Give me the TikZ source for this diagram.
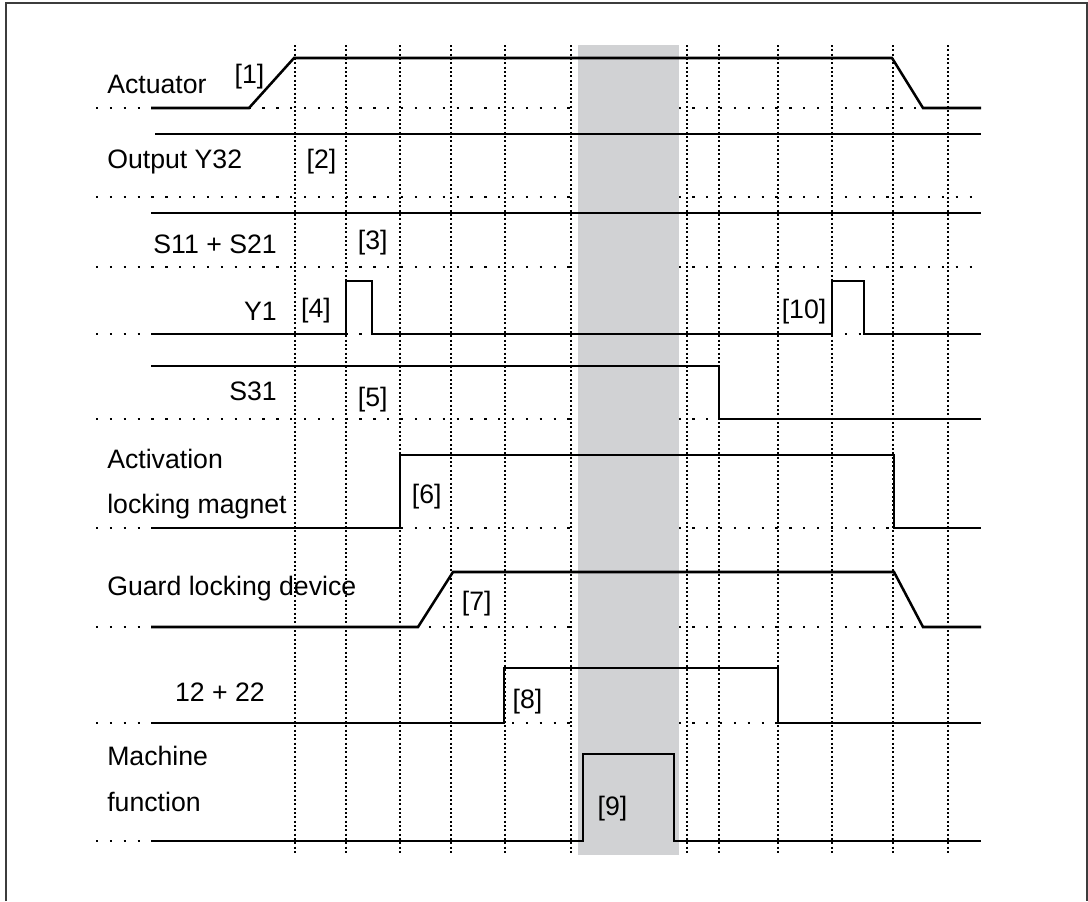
\documentclass[tikz,border=0pt]{standalone}
\usepackage{fontspec}
\setmainfont{Liberation Sans}
\definecolor{band}{RGB}{209,210,212}
\definecolor{frame}{RGB}{60,60,60}
\begin{document}
\begin{tikzpicture}[x=0.75pt,y=-0.75pt,
  sig/.style={line width=1.9pt,line join=miter,black},
  hdot/.style={line width=1.9pt,dash pattern=on 1.7pt off 8.7pt,black},
  vdot/.style={line width=1.9pt,dash pattern=on 1.6pt off 1.65pt,black},
  lbl/.style={inner sep=0pt,anchor=base west,font=\fontsize{20}{24}\selectfont},
  rlbl/.style={inner sep=0pt,anchor=base east,font=\fontsize{20}{24}\selectfont},
  tag/.style={inner sep=0pt,anchor=base,font=\fontsize{20}{24}\selectfont}]
\useasboundingbox (0,0) rectangle (1088,901);
\draw[line width=1.2pt,frame] (6,901) -- (6,3) -- (1087,3) -- (1087,901);
% vertical dotted grid
\foreach \x in {295,346,400,451,505,571,687,719,778,832,893,948}
  \draw[vdot] (\x,45) -- (\x,853);
% horizontal dotted baselines
\foreach \y in {108,197,267,334,419,528,627,723,841}
  \draw[hdot] (96,\y) -- (982,\y);
% grey band
\fill[band] (578,45) rectangle (679,855);
% signals
\draw[sig] (151,108) -- (249,108) -- (294,58) -- (892,58) -- (923,108) -- (981,108);
\draw[sig] (155,134) -- (981,134);
\draw[sig] (151,213) -- (981,213);
\draw[sig] (151,334) -- (346,334) -- (346,281) -- (372,281) -- (372,334) -- (832,334) -- (832,281) -- (864,281) -- (864,334) -- (981,334);
\draw[sig] (151,366) -- (719,366) -- (719,419) -- (981,419);
\draw[sig] (151,528) -- (400,528) -- (400,455) -- (894,455) -- (894,528) -- (981,528);
\draw[sig] (151,627) -- (418,627) -- (453,572) -- (894,572) -- (923,627) -- (981,627);
\draw[sig] (151,723) -- (504,723) -- (504,668) -- (778,668) -- (778,723) -- (981,723);
\draw[sig] (151,841) -- (583,841) -- (583,754) -- (674,754) -- (674,841) -- (981,841);
% labels
\node[lbl] (actuator) at (107,93) {Actuator};
\node[lbl] (y32) at (107,168) {Output Y32};
\node[rlbl] (s11) at (277,253) {S11 + S21};
\node[rlbl] (y1) at (277,320) {Y1};
\node[rlbl] (s31) at (277,400) {S31};
\node[lbl] (act1) at (107,468) {Activation};
\node[lbl] (act2) at (107,513) {locking magnet};
\node[lbl] (guard) at (107,595) {Guard locking device};
\node[tag] (c1222) at (220,701) {12 + 22};
\node[lbl] (mach1) at (107,765) {Machine};
\node[lbl] (mach2) at (107,811) {function};
% tags
\node[tag] (t1) at (249.5,83) {[1]};
\node[tag] (t2) at (321.5,168) {[2]};
\node[tag] (t3) at (372.7,249) {[3]};
\node[tag] (t4) at (316,317) {[4]};
\node[tag] (t5) at (372.7,406) {[5]};
\node[tag] (t6) at (426.7,503) {[6]};
\node[tag] (t7) at (476.7,610) {[7]};
\node[tag] (t8) at (527.5,708) {[8]};
\node[tag] (t9) at (612.5,815) {[9]};
\node[tag] (t10) at (804,318) {[10]};
\end{tikzpicture}
\end{document}
